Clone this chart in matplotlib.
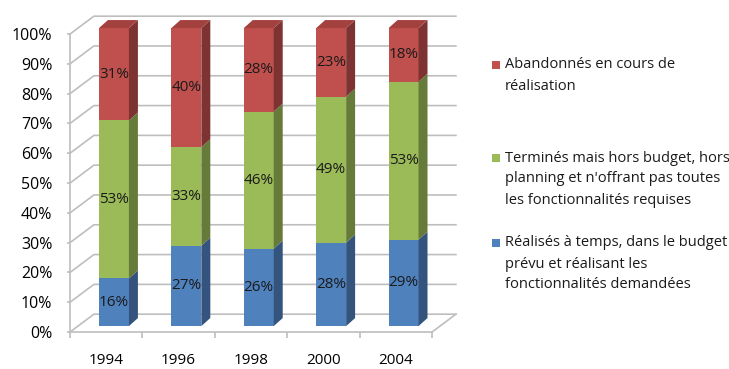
import matplotlib
matplotlib.use("Agg")
import matplotlib.pyplot as plt
from matplotlib.patches import Polygon, Rectangle

plt.rcParams['font.family'] = ['Open Sans', 'DejaVu Sans']

years = ['1994', '1996', '1998', '2000', '2004']
on_time = [16, 27, 26, 28, 29]
over_budget = [53, 33, 46, 49, 53]
abandoned = [31, 40, 28, 23, 18]

series = [on_time, over_budget, abandoned]
face_colors = ['#4F81BD', '#9BBB59', '#C0504D']
side_colors = ['#34547D', '#667B3A', '#7D3331']
top_color = '#A3413E'
labels = ['Abandonnés en cours de\nréalisation',
          'Terminés mais hors budget, hors\nplanning et n\'offrant pas toutes\nles fonctionnalités requises',
          'Réalisés à temps, dans le budget\nprévu et réalisant les\nfonctionnalités demandées']
legend_colors = ['#C0504D', '#9BBB59', '#4F81BD']
yticks = list(range(0, 101, 10))

# fake 3d: depth of the walls and of the bars, in data units
WX, WY = 0.33, 6.0
BY = 2.0               # bars sit half way into the box
DX, DY = 0.124, 2.7    # bar depth
bar_left = 0.40
bar_w = 0.414
grid_col = '#BEBEBE'

W, H = 729, 369
fig = plt.figure(figsize=(W / 100, H / 100), dpi=100)
ax = fig.add_axes([70 / W, (H - 341) / H, 5.36 * 72.4 / W, 110 * 2.98 / H])
ax.set_xlim(0, 5.36)
ax.set_ylim(-3, 107)

# walls and floor
for v in yticks:
    ax.plot([0, WX, len(years) + WX], [v, v + WY, v + WY], color=grid_col, lw=1.2, zorder=1)
ax.plot([len(years), len(years) + WX], [0, WY], color=grid_col, lw=1.2, zorder=1)

# bars
for i in range(len(years)):
    xl = i + bar_left
    xr = xl + bar_w
    bottom = BY
    for s in range(len(series)):
        v = series[s][i]
        ax.bar(xl, v, width=bar_w, bottom=bottom, align='edge', color=face_colors[s],
               linewidth=0, zorder=3)
        side = Polygon([(xr, bottom), (xr + DX, bottom + DY), (xr + DX, bottom + v + DY),
                        (xr, bottom + v)], closed=True, facecolor=side_colors[s],
                       edgecolor='none', zorder=3)
        ax.add_patch(side)
        ax.text(xl + bar_w / 2, bottom + v / 2, f"{v}%", ha='center', va='center',
                fontsize=11, color='#1a1a1a', zorder=4)
        bottom += v
    top = Polygon([(xl, bottom), (xr, bottom), (xr + DX, bottom + DY), (xl + DX, bottom + DY)],
                  closed=True, facecolor=top_color, edgecolor='none', zorder=3)
    ax.add_patch(top)

# axes
for name in ['top', 'right']:
    ax.spines[name].set_visible(False)
ax.spines['left'].set_bounds(0, 100)
ax.spines['bottom'].set_position(('data', 0))
ax.spines['bottom'].set_bounds(0, len(years))
for name in ['left', 'bottom']:
    ax.spines[name].set_color(grid_col)
    ax.spines[name].set_linewidth(1.2)
ax.set_yticks(yticks)
ax.set_yticklabels([f"{v}%" for v in yticks])
ax.tick_params(axis='y', length=2.2, width=1.2, color=grid_col, pad=10.5, labelsize=11.5)
ax.set_xticks(range(len(years) + 1))
ax.set_xticklabels([])
ax.tick_params(axis='x', which='major', length=4.3, width=1.2, color=grid_col)
ax.set_xticks([i + 0.5 for i in range(len(years))], minor=True)
ax.set_xticklabels(years, minor=True)
ax.tick_params(axis='x', which='minor', length=0, pad=15, labelsize=11)

# legend drawn by hand, lines spaced like the original
first_line = [65, 158, 243]
for lab, col, y0 in zip(labels, legend_colors, first_line):
    fig.patches.append(Rectangle((492 / W, (H - y0 - 4) / H), 8 / W, 8 / H,
                                 transform=fig.transFigure, facecolor=col, edgecolor='none'))
    for k, line in enumerate(lab.split('\n')):
        fig.text(505 / W, (H - y0 - k * 21) / H, line, ha='left', va='center',
                 fontsize=10.5, color='#1a1a1a')

fig.savefig('out.png', dpi=100)
